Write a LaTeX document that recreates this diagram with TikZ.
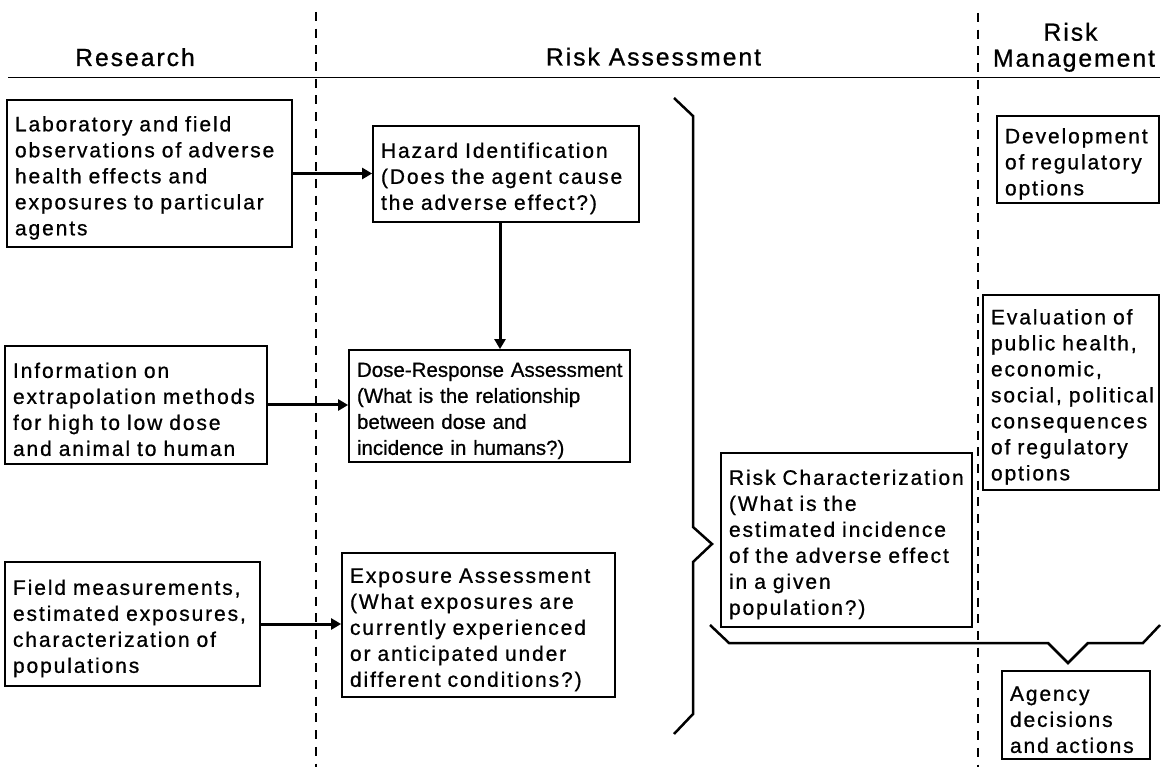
\documentclass[tikz,border=0pt]{standalone}
\usepackage{fontspec}
\setmainfont{Liberation Sans}[LetterSpace=9,FakeBold=0.8]
\newfontfamily\headfont{Liberation Sans}[LetterSpace=8,FakeBold=0.8]
\newfontfamily\tightfont{Liberation Sans}[LetterSpace=0,FakeBold=0.8]
\usetikzlibrary{arrows.meta,calc}
\newcommand{\firststrut}{\rule{0pt}{24pt}}
\begin{document}
\begin{tikzpicture}[x=1pt,y=-1pt,
  box/.style={draw, line width=1.8pt, align=left, inner xsep=8pt, inner ysep=0pt,
    font=\fontsize{21}{26}\selectfont, anchor=center},
  tightbox/.style={box, font=\tightfont\fontsize{20.5}{26}\selectfont},
  conn/.style={line width=3pt, -{Triangle[length=10pt,width=11pt]}},
  divider/.style={line width=1.8pt, dash pattern=on 9pt off 7.7pt},
  brace/.style={line width=2.5pt, line join=miter},
  rule/.style={line width=1.8pt},
  head/.style={font=\headfont\fontsize{24.7}{26}\selectfont, inner sep=0pt, anchor=base}]
\useasboundingbox (0,0) rectangle (1168,767);

% headers
\node[head] (hres) at (135,66) {Research};
\node[head] (hass) at (653.5,65.5) {Risk Assessment};
\node[head] (hrisk) at (1070.5,40.7) {Risk};
\node[head] (hman) at (1074,66.7) {Management};
\draw[rule] (8,77.5) -- (1160,77.5);

% dividers
\draw[divider] (316,12) -- (316,767);
\draw[divider] (978,13) -- (978,767);

% research boxes
\node[box, minimum width=285pt, minimum height=147pt, text width=269pt] (lab) at (149.5,173.5)
 {\firststrut\mbox{Laboratory and field}\\\mbox{observations of adverse}\\\mbox{health effects and}\\\mbox{exposures to particular}\\\mbox{agents}};
\node[box, minimum width=262pt, minimum height=118pt, text width=246pt] (info) at (136,405)
 {\firststrut\mbox{Information on}\\\mbox{extrapolation methods}\\\mbox{for high to low dose}\\\mbox{and animal to human}};
\node[box, minimum width=255pt, minimum height=124pt, text width=239pt] (field) at (132.5,624)
 {\firststrut\mbox{Field measurements,}\\\mbox{estimated exposures,}\\\mbox{characterization of}\\\mbox{populations}};

% assessment boxes
\node[box, minimum width=266pt, minimum height=96pt, text width=250pt] (haz) at (506,174)
 {\firststrut\mbox{Hazard Identification}\\\mbox{(Does the agent cause}\\\mbox{the adverse effect?)}};
\node[tightbox, minimum width=281pt, minimum height=112pt, text width=265pt] (dose) at (489.5,406)
 {\firststrut\mbox{Dose-Response Assessment}\\\mbox{(What is the relationship}\\\mbox{between dose and}\\\mbox{incidence in humans?)}};
\node[box, minimum width=273pt, minimum height=144pt, text width=257pt] (expo) at (478.5,625)
 {\firststrut\mbox{Exposure Assessment}\\\mbox{(What exposures are}\\\mbox{currently experienced}\\\mbox{or anticipated under}\\\mbox{different conditions?)}};
\node[box, minimum width=251pt, minimum height=174pt, text width=235pt] (rc) at (846.5,540)
 {\firststrut\mbox{Risk Characterization}\\\mbox{(What is the}\\\mbox{estimated incidence}\\\mbox{of the adverse effect}\\\mbox{in a given}\\\mbox{population?)}};

% management boxes
\node[box, minimum width=162pt, minimum height=87pt, text width=146pt] (dev) at (1078,159.5)
 {\firststrut\mbox{Development}\\\mbox{of regulatory}\\\mbox{options}};
\node[box, minimum width=176pt, minimum height=195pt, text width=160pt] (eval) at (1071,392.5)
 {\firststrut\mbox{Evaluation of}\\\mbox{public health,}\\\mbox{economic,}\\\mbox{social, political}\\\mbox{consequences}\\\mbox{of regulatory}\\\mbox{options}};
\node[box, minimum width=148pt, minimum height=88pt, text width=132pt] (agency) at (1076,715)
 {\firststrut\mbox{Agency}\\\mbox{decisions}\\\mbox{and actions}};

% connectors
\draw[conn] (lab.east) -- (lab.east -| haz.west);
\draw[conn] ([xshift=-6pt]haz.south) -- ([xshift=-6pt]haz.south |- dose.north);
\draw[conn] (info.east) -- (info.east -| dose.west);
\draw[conn] (field.east) -- (field.east -| expo.west);

% braces
\draw[brace] (674,98) -- (693,116) -- (693,527) -- (712,544) -- (693,562) -- (693,714) -- (674,734);
\draw[brace] (710,625) -- (729,643) -- (1048,643) -- (1068,663) -- (1088,643) -- (1143,643) -- (1160,625);
\end{tikzpicture}
\end{document}
